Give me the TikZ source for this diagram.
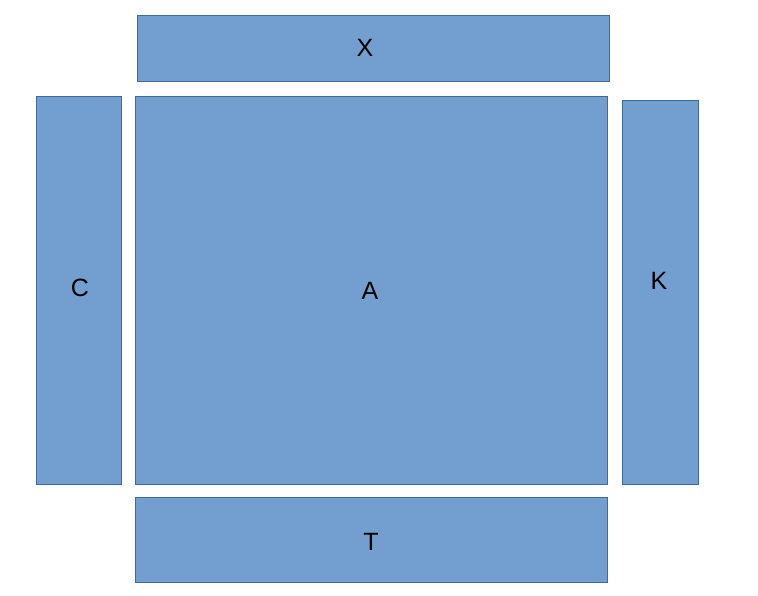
\documentclass[tikz,border=0pt]{standalone}
\usepackage{fontspec}
\setmainfont{Liberation Sans}
\usepackage{xcolor}
\usepackage{tikz}
\definecolor{blockfill}{HTML}{729FCF}
\definecolor{blockline}{HTML}{3F6A9E}

\begin{document}
\begin{tikzpicture}[
    x=1pt, y=-1pt,
    block/.style={draw=blockline, fill=blockfill, line width=0.8pt},
    tag/.style={font=\fontsize{25}{30}\selectfont, text=black}
  ]
  \useasboundingbox (0,0) rectangle (758,595);
  % blocks
  \draw[block] (137,15) rectangle (609,81);
  \draw[block] (36,96) rectangle (121,484);
  \draw[block] (135,96) rectangle (607,484);
  \draw[block] (622,100) rectangle (698,484);
  \draw[block] (135,497) rectangle (607,582);

  % letters
  \node[tag] (x) at (365,48) {X};
  \node[tag] (c) at (80,288) {C};
  \node[tag] (a) at (370,291) {A};
  \node[tag] (k) at (659,281) {K};
  \node[tag] (t) at (371,542) {T};
\end{tikzpicture}
\end{document}
